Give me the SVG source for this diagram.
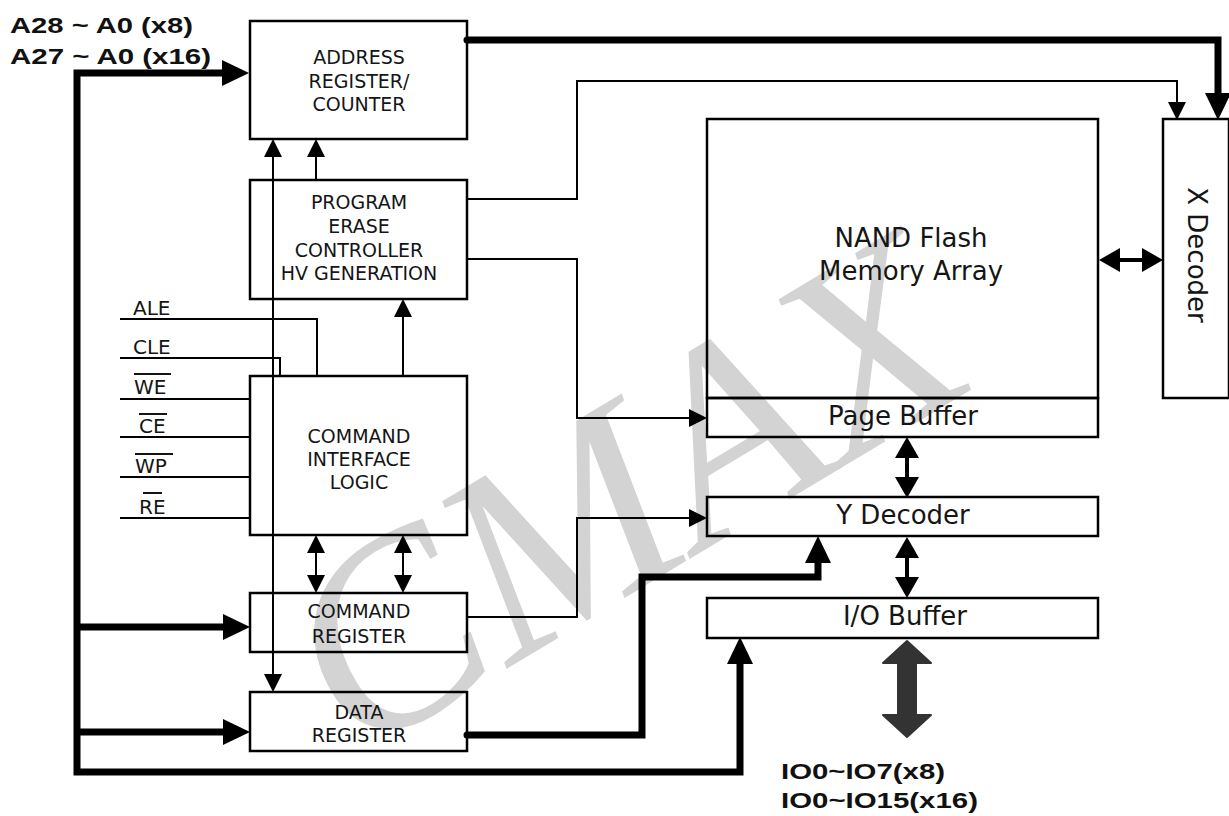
<svg xmlns="http://www.w3.org/2000/svg" width="1229" height="816" viewBox="0 0 1229 816">
<style>
.box{fill:none;stroke:#000;stroke-width:2.5}
.lbl{font-family:"DejaVu Sans",Verdana,sans-serif;font-size:19px;fill:#151515;text-anchor:middle}
.big{font-family:"DejaVu Sans",Verdana,sans-serif;font-size:26px;fill:#151515;text-anchor:middle}
.sig{font-family:"DejaVu Sans",Verdana,sans-serif;font-size:20px;fill:#151515}
.bold{font-family:"Liberation Sans",Arial,sans-serif;font-weight:bold;font-size:22px;fill:#111}
.thin{fill:none;stroke:#000;stroke-width:2}
.med{fill:none;stroke:#000;stroke-width:4}
.thick{fill:none;stroke:#000;stroke-width:7}
.ovl{stroke:#151515;stroke-width:2}
</style>
<defs>
<marker id="ah" markerUnits="userSpaceOnUse" markerWidth="18" markerHeight="18" refX="0" refY="9" orient="auto-start-reverse"><path d="M0,0 L18,9 L0,18 z" fill="#000"/></marker>
<marker id="ahm" markerUnits="userSpaceOnUse" markerWidth="21" markerHeight="24" refX="0" refY="12" orient="auto-start-reverse"><path d="M0,0 L21,12 L0,24 z" fill="#000"/></marker>
<marker id="aht" markerUnits="userSpaceOnUse" markerWidth="27" markerHeight="26" refX="0" refY="13" orient="auto-start-reverse"><path d="M0,0 L27,13 L0,26 z" fill="#000"/></marker>
</defs>
<rect width="1229" height="816" fill="#fff"/>
<g id="watermark">
<text transform="translate(355,760) rotate(-31)" font-family="Liberation Serif" font-style="italic" font-size="270" fill="#d3d3d3">CMAX</text>
</g>
<g id="address-register">
<rect class="box" x="250" y="21" width="217" height="118"/>
<text class="lbl" x="359" y="64">ADDRESS</text>
<text class="lbl" x="359" y="88">REGISTER/</text>
<text class="lbl" x="359" y="111">COUNTER</text>
</g>
<g id="program-erase">
<rect class="box" x="250" y="180" width="217" height="119"/>
<text class="lbl" x="359" y="209">PROGRAM</text>
<text class="lbl" x="359" y="233">ERASE</text>
<text class="lbl" x="359" y="257">CONTROLLER</text>
<text class="lbl" x="359" y="280">HV GENERATION</text>
</g>
<g id="command-interface">
<rect class="box" x="250" y="376" width="217" height="159"/>
<text class="lbl" x="359" y="443">COMMAND</text>
<text class="lbl" x="359" y="466">INTERFACE</text>
<text class="lbl" x="359" y="489">LOGIC</text>
</g>
<g id="command-register">
<rect class="box" x="250" y="593" width="217" height="59"/>
<text class="lbl" x="359" y="618">COMMAND</text>
<text class="lbl" x="359" y="643">REGISTER</text>
</g>
<g id="data-register">
<rect class="box" x="250" y="692" width="217" height="59"/>
<text class="lbl" x="359" y="719">DATA</text>
<text class="lbl" x="359" y="742">REGISTER</text>
</g>
<g id="nand-array">
<rect class="box" x="707" y="119" width="391" height="279"/>
<text class="big" x="911" y="247" font-size="27">NAND Flash</text>
<text class="big" x="911" y="280" font-size="27">Memory Array</text>
</g>
<g id="page-buffer">
<rect class="box" x="707" y="398" width="391" height="39"/>
<text class="big" x="903" y="425">Page Buffer</text>
</g>
<g id="y-decoder">
<rect class="box" x="707" y="497" width="391" height="39"/>
<text class="big" x="903" y="524">Y Decoder</text>
</g>
<g id="io-buffer">
<rect class="box" x="707" y="598" width="391" height="40"/>
<text class="big" x="905" y="625">I/O Buffer</text>
</g>
<g id="x-decoder">
<rect class="box" x="1163" y="119" width="66" height="279"/>
<text class="big" transform="translate(1188,255) rotate(90)" font-size="25">X Decoder</text>
</g>
<g id="signals">
<text class="sig" x="133" y="315">ALE</text>
<text class="sig" x="133" y="354">CLE</text>
<text class="sig" x="134" y="394">WE</text>
<line class="ovl" x1="134" y1="374" x2="171" y2="374"/>
<text class="sig" x="139" y="433">CE</text>
<line class="ovl" x1="139" y1="414" x2="167" y2="414"/>
<text class="sig" x="135" y="473">WP</text>
<line class="ovl" x1="135" y1="454" x2="173" y2="454"/>
<text class="sig" x="139" y="514">RE</text>
<line class="ovl" x1="143" y1="493" x2="162" y2="493"/>
</g>
<g id="bus-labels">
<text class="bold" x="10" y="33" textLength="183" lengthAdjust="spacingAndGlyphs">A28 ~ A0 (x8)</text>
<text class="bold" x="10" y="64" textLength="201" lengthAdjust="spacingAndGlyphs">A27 ~ A0 (x16)</text>
<text class="bold" x="781" y="779" textLength="164" lengthAdjust="spacingAndGlyphs">IO0~IO7(x8)</text>
<text class="bold" x="781" y="808" textLength="197" lengthAdjust="spacingAndGlyphs">IO0~IO15(x16)</text>
</g>
<g id="connectors">
<path class="thick" d="M222,73 H77 V772 H740 V664" marker-start="url(#aht)" marker-end="url(#aht)"/>
<path class="thick" d="M77,627 H223" marker-end="url(#aht)"/>
<path class="thick" d="M77,732 H223" marker-end="url(#aht)"/>
<path class="thick" d="M467,735 H642 V577 H818 V563" marker-end="url(#aht)" stroke-linecap="round"/>
<path class="thick" d="M467,40 H1218 V93" marker-end="url(#aht)" stroke-linecap="round"/>
<path class="thin" d="M467,199 H577 V81 H1177 V102" marker-end="url(#ah)"/>
<path class="thin" d="M467,259 H577 V418 H689" marker-end="url(#ah)"/>
<path class="thin" d="M467,617 H577 V518 H689" marker-end="url(#ah)"/>
<path class="thin" d="M273,157 V674" marker-start="url(#ah)" marker-end="url(#ah)"/>
<path class="thin" d="M316,180 V157" marker-end="url(#ah)"/>
<path class="thin" d="M403,376 V317" marker-end="url(#ah)"/>
<path class="thin" d="M316,553 V575" marker-start="url(#ah)" marker-end="url(#ah)"/>
<path class="thin" d="M403,553 V575" marker-start="url(#ah)" marker-end="url(#ah)"/>
<path class="thin" d="M120,319 H317 V376"/>
<path class="thin" d="M120,358 H280 V376"/>
<path class="thin" d="M120,399 H250 M120,437 H250 M120,477 H250 M120,518 H250"/>
<path class="med" d="M1120,260 H1142" marker-start="url(#ahm)" marker-end="url(#ahm)"/>
<path class="med" d="M907,458 V477" marker-start="url(#ahm)" marker-end="url(#ahm)"/>
<path class="med" d="M907,558 V577" marker-start="url(#ahm)" marker-end="url(#ahm)"/>
<path d="M907,641 L931,663 L916,663 L916,715 L931,715 L907,737 L883,715 L898,715 L898,663 L883,663 Z" fill="#333" stroke="#333" stroke-width="2" stroke-linejoin="round"/>
</g>
</svg>
